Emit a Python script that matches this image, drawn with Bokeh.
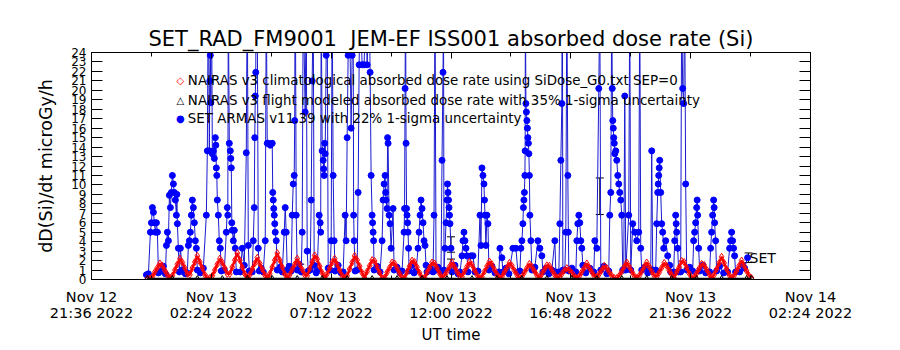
from bokeh.plotting import figure
from bokeh.models import (Range1d, FixedTicker, LinearAxis, Label, Whisker,
                          ColumnDataSource, TeeHead)
from bokeh.embed import file_html
from bokeh.resources import INLINE

FONT = "DejaVu Sans"

# ---- axes (time in hours since 2022-11-12 00:00 UT) ----
x_major = [21.6, 26.4, 31.2, 36.0, 40.8, 45.6, 50.4]
x_minor = [24.0, 28.8, 33.6, 38.4, 43.2, 48.0]
x_labels = ["Nov 12\n21:36 2022", "Nov 13\n02:24 2022", "Nov 13\n07:12 2022",
            "Nov 13\n12:00 2022", "Nov 13\n16:48 2022", "Nov 13\n21:36 2022",
            "Nov 14\n02:24 2022"]
y_ticks = [0, 1, 2, 3, 4, 5, 6, 7, 8, 9, 10, 11, 12, 13, 14, 15, 16, 17, 18, 19,
           20, 21, 22, 23, 24]

# ---- NAIRAS v3 climatological (red diamonds), sampled every 0.1 h ----
red_start = 23.84
red_step = 0.1
red_v = [0.1, 0.1, 0.3, 0.8, 1.25, 1.7, 1.45, 0.95, 0.5,
         0.15, 0.4, 1.0, 1.6, 2.2, 1.8, 1.2, 0.6,
         0.5, 1.2, 1.85, 2.5, 1.85, 1.2, 0.5, 0.15,
         0.15, 0.4, 1.0, 1.6, 2.2, 1.8, 1.2, 0.6,
         0.6, 1.3, 2.05, 2.8, 2.05, 1.3, 0.6, 0.15,
         0.5, 1.1, 1.7, 2.3, 1.7, 1.1, 0.5, 0.15,
         0.6, 1.3, 2.05, 2.8, 2.05, 1.3, 0.6, 0.15,
         0.5, 1.05, 1.6, 2.2, 1.6, 1.05, 0.5,
         0.4, 1.15, 1.85, 2.55, 2.15, 1.4, 0.7, 0.15,
         0.6, 1.2, 1.8, 2.2, 1.6, 1.0, 0.4, 0.15,
         0.4, 1.1, 1.8, 2.5, 2.05, 1.4, 0.7, 0.15,
         0.85, 1.45, 2.05, 1.95, 1.35, 0.75, 0.15,
         0.2, 0.75, 1.25, 1.8, 1.7, 1.2, 0.65, 0.15,
         0.2, 0.8, 1.4, 2.0, 1.85, 1.3, 0.7, 0.15,
         0.2, 0.75, 1.25, 1.8, 1.7, 1.2, 0.65, 0.15,
         0.4, 0.85, 1.35, 1.8, 1.35, 0.85, 0.4,
         0.3, 0.85, 1.35, 1.85, 1.55, 1.0, 0.5, 0.15,
         0.3, 0.85, 1.4, 1.9, 1.6, 1.05, 0.55, 0.15,
         0.3, 0.8, 1.25, 1.75, 1.45, 0.95, 0.5, 0.15,
         0.3, 0.75, 1.2, 1.65, 1.35, 0.9, 0.45, 0.15,
         0.6, 1.05, 1.5, 1.45, 1.0, 0.55, 0.2,
         0.3, 0.6, 0.95, 1.2, 1.0, 0.7, 0.35,
         0.15, 0.35, 0.8, 1.25, 1.7, 1.25, 0.8, 0.35,
         0.25, 0.6, 1.0, 1.45, 1.2, 0.8, 0.4, 0.15,
         0.15, 0.4, 0.85, 1.35, 1.8, 1.35, 0.85, 0.4,
         0.15, 0.4, 0.85, 1.35, 1.8, 1.35, 0.85, 0.4,
         0.3, 0.75, 1.25, 1.75, 1.45, 0.95, 0.5, 0.15,
         0.8, 1.3, 1.95, 1.85, 1.25, 0.65, 0.15,
         0.25, 0.65, 1.15, 1.65, 1.55, 1.05, 0.55, 0.15,
         0.5, 1.1, 1.75, 2.4, 1.75, 1.1, 0.5, 0.15,
         0.4, 0.9, 1.45, 2.0, 1.45, 0.9, 0.4, 0.15]
red_t = [round(red_start + red_step * i, 2) for i in range(len(red_v))]

# ---- NAIRAS v3 flight modeled (black triangles) ----
flight_t = [23.84, 24.84, 25.84, 26.84, 27.84, 28.84, 29.84, 30.84, 31.84, 32.84,
            33.84, 34.84, 35.84, 36.84, 37.84, 38.84, 39.84, 40.84, 41.84, 42.84,
            43.84, 44.84, 45.84, 46.84, 47.84, 48.04]
flight_v = [0.05, 0.05, 0.05, 0.05, 0.05, 0.05, 0.05, 0.05, 0.05, 0.05,
            0.05, 0.05, 0.05, 0.05, 0.05, 0.05, 0.05, 0.05, 0.05, 0.05,
            0.05, 0.05, 0.05, 0.05, 0.05, 0.05]
flight_err_t = [29.96, 36.00]
flight_err_v = [1.2, 1.6]

# ---- SET ARMAS v11.39 (blue dots) ----
set_t = [23.80, 23.88,
         23.96, 24.00, 24.04, 24.08, 24.12, 24.16, 24.20, 24.24, 24.28,
         24.40, 24.48,
         24.56, 24.60, 24.64, 24.68, 24.72, 24.76, 24.80, 24.84, 24.88, 24.92, 24.96, 25.00, 25.02, 25.04, 25.08, 25.12,
         25.16, 25.24, 25.36,
         25.44, 25.48, 25.52, 25.56, 25.60, 25.64, 25.68, 25.72, 25.76, 25.80, 25.84,
         25.96, 26.08,
         26.20, 26.24, 26.28, 26.32, 26.34, 26.36, 26.38, 26.40, 26.44, 26.48, 26.52, 26.56, 26.58, 26.60, 26.62, 26.64, 26.68, 26.72, 26.76, 26.80,
         26.92, 27.00, 27.04, 27.06, 27.08, 27.12, 27.16, 27.18, 27.20, 27.22, 27.24, 27.28, 27.32, 27.36, 27.40,
         27.56, 27.64, 27.72, 27.80, 27.84, 27.88, 27.92,
         28.04, 28.08, 28.12, 28.14, 28.16, 28.18, 28.20, 28.24, 28.28, 28.32, 28.40,
         28.48, 28.56, 28.60, 28.64, 28.68, 28.76, 28.84, 28.86, 28.88, 28.90, 28.92, 28.94, 28.96, 29.00, 29.04, 29.16,
         29.24, 29.32, 29.36, 29.40, 29.44, 29.52,
         29.60, 29.64, 29.68, 29.72, 29.74, 29.76, 29.80, 29.84, 29.92,
         30.00, 30.04, 30.08, 30.16, 30.20, 30.24, 30.28,
         30.36, 30.40, 30.44, 30.48, 30.52, 30.60,
         30.64, 30.72, 30.76, 30.78, 30.80, 30.84, 30.88, 30.90, 30.92, 30.94, 30.96, 31.00, 31.04, 31.08,
         31.16, 31.20, 31.24, 31.28, 31.32, 31.36, 31.48, 31.60,
         31.68, 31.76, 31.80, 31.84, 31.88, 31.92, 31.96, 32.00, 32.04, 32.08, 32.10, 32.12, 32.16,
         32.24, 32.28, 32.32, 32.36, 32.44, 32.52, 32.60, 32.64, 32.72, 32.76, 32.80, 32.84, 32.86, 32.88, 32.90, 32.92, 33.04,
         33.16, 33.24, 33.28, 33.32, 33.36, 33.38, 33.40, 33.44, 33.46, 33.48, 33.52, 33.56, 33.60, 33.68, 33.72, 33.84, 33.96,
         34.04, 34.12, 34.14, 34.16, 34.18, 34.20, 34.22, 34.24, 34.26, 34.28, 34.30, 34.32, 34.44, 34.52,
         34.60, 34.68, 34.72, 34.76, 34.80, 34.84, 34.88, 34.92, 34.96, 35.00, 35.04, 35.16,
         35.28, 35.32, 35.36, 35.40, 35.48,
         35.60, 35.64, 35.68, 35.70, 35.72,
         35.76, 35.80, 35.84, 35.86, 35.88, 35.90, 35.92, 35.94, 35.96, 36.00, 36.04, 36.16, 36.28,
         36.36, 36.44, 36.48, 36.52, 36.56, 36.60, 36.64, 36.68,
         36.80, 36.88, 36.96,
         37.08, 37.16, 37.20, 37.24, 37.28, 37.32, 37.34, 37.36, 37.40, 37.44, 37.48, 37.52, 37.64, 37.76,
         37.92, 37.96, 38.04, 38.08, 38.20, 38.32,
         38.48, 38.60, 38.68,
         38.76, 38.80, 38.84, 38.88, 38.90, 38.92, 38.94, 38.96, 38.97, 38.98, 39.00, 39.02, 39.04, 39.06, 39.08, 39.10, 39.12, 39.14, 39.16, 39.20, 39.24, 39.36,
         39.48, 39.56, 39.64, 39.68, 39.80, 39.92, 40.04,
         40.16, 40.20,
         40.32, 40.36, 40.40, 40.44, 40.46, 40.48, 40.56, 40.60, 40.64, 40.68, 40.70, 40.72, 40.84,
         41.00, 41.04, 41.08, 41.12, 41.16, 41.20, 41.24, 41.28, 41.40, 41.56,
         41.72, 41.76, 41.84, 41.92, 41.96, 42.00, 42.12, 42.24,
         42.32, 42.36, 42.40, 42.44, 42.46, 42.48, 42.50, 42.52, 42.54, 42.56, 42.60, 42.64, 42.68, 42.72, 42.76, 42.80, 42.84, 42.88,
         42.92, 42.96, 43.00, 43.12, 43.16, 43.20,
         43.28, 43.36, 43.44, 43.52, 43.56, 43.60, 43.64, 43.76, 43.88,
         44.00, 44.04, 44.08,
         44.20, 44.24, 44.28, 44.30, 44.32, 44.34, 44.36, 44.40, 44.44, 44.48, 44.52, 44.60, 44.68, 44.76, 44.80,
         44.92, 44.96, 45.00, 45.02, 45.04, 45.08, 45.12,
         45.20, 45.24, 45.28, 45.32, 45.36, 45.40, 45.44, 45.56,
         45.68, 45.72, 45.76, 45.80, 45.84, 45.86, 45.88, 45.92, 45.96, 46.08, 46.20,
         46.36, 46.40, 46.44, 46.48, 46.52, 46.54, 46.56, 46.60, 46.64, 46.76, 46.92,
         47.08, 47.16, 47.20, 47.24, 47.28, 47.32, 47.36, 47.40,
         47.56, 47.68, 47.76, 47.88]
set_v = [0.5, 0.6,
         5.0, 6.0, 7.6, 7.1, 6.0, 5.0, 6.0, 5.0, 0.7,
         0.9, 1.4,
         0.6, 3.6, 5.0, 4.1, 8.9, 7.6, 9.2, 11.0, 10.1, 9.2, 8.4, 6.8, 9.0, 5.9, 3.3, 0.8,
         3.3, 1.0, 0.6,
         0.7, 3.6, 4.1, 5.0, 6.8, 8.4, 7.6, 6.0, 4.1, 3.3, 1.0,
         0.7, 1.2,
         6.8, 13.6, 32, 13.6, 21.0, 23.7, 18.7, 35, 13.3, 13.6, 12.8, 15.0, 14.2, 11.8, 11.0, 8.4, 6.8, 4.1, 3.3, 0.9,
         1.0, 5.0, 7.6, 6.8, 30, 14.4, 13.6, 12.8, 11.8, 6.0, 5.2, 4.1, 5.2, 3.3, 0.8,
         0.8, 3.3, 1.5, 13.4, 32, 3.6, 0.9,
         0.8, 4.1, 7.6, 15.0, 19.4, 21.9, 40, 28, 3.3, 0.9, 1.2,
         0.8, 4.1, 30, 14.4, 14.4, 14.2, 14.4, 9.2, 8.4, 7.5, 6.8, 5.9, 5.0, 4.1, 1.0, 1.3,
         0.8, 5.0, 7.6, 5.0, 1.0, 1.4,
         0.9, 6.8, 10.1, 11.0, 16.8, 35, 6.8, 1.0, 1.6,
         0.8, 5.0, 30, 17.7, 30, 3.0, 0.9,
         1.0, 8.4, 21.0, 30, 1.5, 0.7,
         0.9, 6.8, 6.0, 5.0, 30, 13.6, 12.6, 11.7, 11.0, 14.4, 13.3, 23.7, 30, 1.2,
         1.0, 4.1, 30, 11.0, 4.1, 0.9, 1.5, 0.7,
         0.8, 6.8, 4.1, 15.0, 23.7, 30, 23.9, 16.0, 23.7, 30, 6.8, 4.1, 0.9,
         1.0, 9.2, 22.7, 30, 22.7, 22.7, 30, 22.7, 30, 21.9, 11.0, 6.8, 6.0, 5.0, 4.1, 1.0, 1.4,
         0.8, 4.1, 8.4, 10.1, 11.0, 9.2, 8.4, 7.5, 15.0, 14.4, 6.8, 5.9, 3.3, 7.5, 1.0, 1.3, 0.7,
         0.9, 5.0, 7.5, 20.2, 30, 14.4, 7.5, 6.8, 6.0, 5.0, 3.3, 0.9, 1.5, 0.7,
         0.9, 3.3, 5.0, 6.8, 8.4, 7.5, 6.0, 4.1, 3.6, 1.5, 0.8, 1.2,
         0.8, 6.8, 30, 1.0, 1.3,
         0.8, 12.6, 21.9, 28, 1.0,
         3.3, 6.0, 8.4, 10.1, 9.2, 8.4, 7.6, 6.8, 5.9, 3.3, 0.8, 1.5, 0.6,
         0.8, 2.5, 4.1, 5.0, 4.1, 3.3, 2.5, 0.8,
         2.5, 2.5, 0.8,
         0.9, 6.8, 3.6, 11.8, 11.0, 10.1, 8.4, 6.8, 3.6, 6.8, 5.9, 1.0, 1.4, 0.7,
         0.8, 3.3, 2.3, 0.8, 1.2, 0.6,
         3.3, 3.3, 0.8,
         0.9, 3.3, 4.1, 5.9, 7.6, 8.4, 9.2, 11.0, 13.6, 30, 18.6, 17.7, 16.8, 16.0, 15.0, 14.4, 13.3, 11.0, 6.8, 4.1, 1.0, 1.3,
         4.1, 3.3, 2.5, 0.8, 1.2, 0.6, 1.0,
         4.1, 0.8,
         0.8, 5.9, 12.6, 18.6, 35, 1.0, 1.0, 5.0, 30, 11.0, 5.0, 0.9, 1.2,
         0.8, 4.1, 5.9, 6.8, 6.0, 4.1, 3.3, 1.5, 0.7, 1.2,
         0.8, 4.1, 3.3, 20.2, 30, 1.0, 1.4, 0.6,
         0.9, 6.8, 9.2, 30, 20.2, 16.8, 16.0, 15.0, 14.4, 13.3, 13.6, 12.6, 11.0, 10.1, 9.2, 8.4, 6.8, 1.0,
         1.0, 19.4, 1.0, 6.8, 30, 1.0,
         5.9, 5.0, 4.1, 5.0, 30, 3.3, 1.0, 1.3, 0.7,
         1.0, 13.6, 1.0,
         1.0, 5.9, 9.2, 10.1, 11.0, 11.8, 12.6, 9.2, 5.9, 5.0, 3.3, 4.1, 2.5, 1.5, 0.8,
         0.8, 4.1, 6.8, 5.9, 5.0, 3.3, 0.8,
         0.8, 30, 20.2, 18.6, 30, 10.1, 1.0, 1.3,
         0.9, 4.1, 5.0, 6.0, 7.6, 8.4, 6.8, 3.3, 0.9, 1.5, 0.7,
         0.8, 3.3, 5.0, 6.8, 8.4, 7.6, 6.0, 4.1, 0.9, 1.4, 0.7,
         0.8, 3.3, 4.1, 5.0, 4.1, 3.3, 2.5, 0.8,
         0.8, 1.5, 1.2, 2.3]
set_err_t = [36.00, 41.96, 47.92]
set_err_v = [3.7, 8.8, 2.3]

n = min(len(set_t), len(set_v))
set_t, set_v = set_t[:n], set_v[:n]

# ---- figure ----
p = figure(width=900, height=350, output_backend="svg", toolbar_location=None,
           x_range=Range1d(21.6, 50.4), y_range=Range1d(0, 24),
           x_axis_type=None, y_axis_type=None,
           min_border_left=91, min_border_right=90, min_border_top=52,
           min_border_bottom=71)
p.outline_line_color = "black"
p.background_fill_color = "white"
p.border_fill_color = "white"

p.title.text = "SET_RAD_FM9001\u00a0 JEM-EF ISS001 absorbed dose rate (Si)"
p.title.align = "center"
p.title.text_font = FONT
p.title.text_font_size = "21px"
p.title.text_font_style = "normal"
p.title.text_color = "black"
p.title.standoff = 4

xt = FixedTicker(ticks=x_major, minor_ticks=x_minor)
yt = FixedTicker(ticks=y_ticks, minor_ticks=[])

xb = LinearAxis(ticker=xt)
xb.major_label_overrides = {t: l for t, l in zip(x_major, x_labels)}
xb.major_label_text_font = FONT
xb.major_label_text_font_size = "14.5px"
xb.major_label_text_line_height = 1.0
xb.major_label_standoff = 9
xb.axis_label = "UT time"
xb.axis_label_text_font = FONT
xb.axis_label_text_font_size = "15px"
xb.axis_label_text_font_style = "normal"
xb.axis_label_text_color = "black"
xb.axis_label_standoff = 2
p.add_layout(xb, "below")

xa = LinearAxis(ticker=xt)
xa.major_label_text_font_size = "0px"
xa.major_label_text_color = None
xa.major_label_standoff = 0
p.add_layout(xa, "above")

yl = LinearAxis(ticker=yt)
yl.major_label_text_font = FONT
yl.major_label_text_font_size = "12px"
yl.major_label_standoff = 5
yl.axis_label = "dD(Si)/dt microGy/h"
yl.axis_label_text_font = FONT
yl.axis_label_text_font_size = "17.5px"
yl.axis_label_text_font_style = "normal"
yl.axis_label_text_color = "black"
yl.axis_label_standoff = 12
p.add_layout(yl, "left")

yr = LinearAxis(ticker=yt)
yr.major_label_text_font_size = "0px"
yr.major_label_text_color = None
yr.major_label_standoff = 0
p.add_layout(yr, "right")

for ax in (xb, xa):
    ax.major_tick_in = 6
    ax.major_tick_out = 0
    ax.minor_tick_in = 4
    ax.minor_tick_out = 0
for ax in (yl, yr):
    ax.major_tick_in = 11
    ax.major_tick_out = 0
    ax.minor_tick_in = 0
    ax.minor_tick_out = 0
for ax in (xb, xa, yl, yr):
    ax.axis_line_color = "black"
    ax.major_tick_line_color = "black"
    ax.minor_tick_line_color = "black"
xb.major_label_text_color = "black"
yl.major_label_text_color = "black"

# ---- data ----
p.line(set_t, set_v, line_color="#1a1ad0", line_width=1)
p.scatter(set_t, set_v, marker="circle", size=6, fill_color="#0000ff",
          line_color="#0000ff")

p.line(red_t, red_v, line_color="#ff0000", line_width=2.5)
p.scatter(red_t, red_v, marker="diamond", size=7, line_color="#ff0000",
          fill_color=None, line_width=1)

p.line(flight_t, flight_v, line_color="black", line_width=2.5)
p.scatter(flight_t, flight_v, marker="triangle", size=6, line_color="black",
          fill_color=None)

set_err = ColumnDataSource(dict(t=set_err_t,
                                lo=[v * 0.78 for v in set_err_v],
                                hi=[v * 1.22 for v in set_err_v]))
fl_err = ColumnDataSource(dict(t=flight_err_t,
                               lo=[v * 0.65 for v in flight_err_v],
                               hi=[v * 1.35 for v in flight_err_v]))
for src in (set_err, fl_err):
    p.add_layout(Whisker(source=src, base="t", lower="lo", upper="hi",
                         line_color="black", line_width=1,
                         lower_head=TeeHead(size=8, line_color="black"),
                         upper_head=TeeHead(size=8, line_color="black")))

p.add_layout(Label(x=47.96, y=2.3, text="SET", text_font=FONT,
                   text_font_size="14px", text_baseline="middle",
                   text_color="black"))

# ---- legend ----
leg_x_sym = 25.16
leg_x_txt = 25.46
legend_rows = [
    (21.0, "\u25c7", "#ff0000",
     "NAIRAS v3 climatological absorbed dose rate using SiDose_G0.txt SEP=0"),
    (18.9, "\u25b3", "black",
     "NAIRAS v3 flight modeled absorbed dose rate with 35% 1-sigma uncertainty"),
    (17.0, "\u25cf", "#0000ff",
     "SET ARMAS v11.39 with 22% 1-sigma uncertainty"),
]
for yv, sym, col, txt in legend_rows:
    p.add_layout(Label(x=leg_x_sym, y=yv, text=sym, text_color=col,
                       text_font=FONT, text_font_size="10px",
                       text_align="center", text_baseline="middle"))
    p.add_layout(Label(x=leg_x_txt, y=yv, text=txt, text_color="black",
                       text_font=FONT, text_font_size="13.4px",
                       text_baseline="middle"))

open("out.html", "w").write(file_html(p, INLINE))
